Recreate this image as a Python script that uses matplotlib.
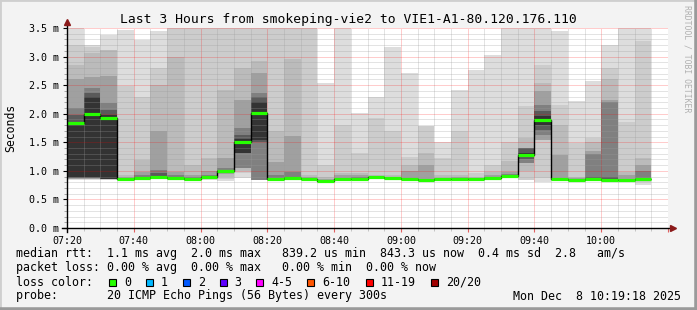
import matplotlib.pyplot as plt
import matplotlib.ticker as mticker
from matplotlib.lines import Line2D
from matplotlib.patches import Rectangle

MONO = "DejaVu Sans Mono"

# one smoke bar every 5 minutes, minutes after 07:20
step_start = list(range(0, 175, 5))
step_len = 5

major_ticks = [0, 20, 40, 60, 80, 100, 120, 140, 160, 180]
major_labels = ["07:20", "07:40", "08:00", "08:20", "08:40", "09:00", "09:20", "09:40", "10:00", ""]

# median rtt per step (ms)
median = [1.83, 1.99, 1.92, 0.86, 0.88, 0.90, 0.88, 0.86, 0.90, 1.00, 1.51, 2.01,
          0.86, 0.88, 0.86, 0.83, 0.85, 0.86, 0.89, 0.88, 0.86, 0.84, 0.85, 0.86,
          0.86, 0.88, 0.91, 1.28, 1.89, 0.85, 0.84, 0.86, 0.84, 0.84, 0.85]

# smoke levels, outer (light) to inner (dark): upper edges (ms)
top0 = [3.50, 3.20, 3.37, 3.46, 3.29, 3.44, 3.6, 3.6, 3.6, 3.6, 3.6, 3.6,
        3.6, 3.6, 3.6, 2.54, 3.6, 2.01, 2.30, 3.16, 2.71, 1.79, 1.51, 2.42,
        2.77, 3.02, 3.6, 3.6, 3.6, 3.44, 2.23, 2.58, 3.20, 3.6, 3.6]
top1 = [3.21, 3.16, 3.12, 2.49, 2.30, 2.80, 3.6, 3.6, 3.6, 3.6, 3.6, 3.6,
        3.6, 3.6, 3.6, 1.10, 1.80, 1.31, 1.92, 1.70, 1.25, 1.79, 1.22, 1.70,
        0.96, 1.10, 1.51, 2.13, 2.86, 2.16, 1.48, 1.57, 2.80, 1.86, 3.27]
top2 = [2.86, 3.07, 3.12, 0.93, 1.19, 2.50, 3.00, 1.10, 1.22, 2.42, 2.80, 2.92,
        1.70, 2.95, 0.92, 0.90, 0.96, 0.96, 0.93, 0.93, 1.10, 1.31, 0.92, 0.92,
        0.90, 0.98, 1.17, 1.57, 2.54, 1.81, 0.90, 1.50, 2.60, 0.98, 1.22]
top3 = [2.60, 2.65, 2.66, 0.90, 0.98, 1.69, 0.98, 0.93, 1.00, 1.22, 2.24, 2.72,
        1.16, 1.61, 0.89, 0.86, 0.93, 0.93, 0.91, 0.90, 1.00, 1.10, 0.88, 0.89,
        0.88, 0.93, 0.98, 1.40, 2.39, 1.28, 0.87, 1.34, 2.24, 0.92, 1.11]
top4 = [2.10, 2.45, 2.19, 0.88, 0.93, 1.02, 0.92, 0.89, 0.93, 1.05, 1.75, 2.37,
        0.92, 0.98, 0.87, 0.84, 0.87, 0.90, 0.90, 0.89, 0.88, 0.86, 0.86, 0.87,
        0.87, 0.90, 0.94, 1.40, 2.16, 0.87, 0.85, 1.30, 2.20, 0.86, 1.00]
top5 = [1.98, 2.37, 2.07, 0.87, 0.90, 0.96, 0.89, 0.87, 0.91, 1.02, 1.63, 2.30,
        0.87, 0.90, 0.865, 0.835, 0.86, 0.87, 0.90, 0.885, 0.865, 0.85, 0.855, 0.865,
        0.865, 0.89, 0.92, 1.40, 2.04, 0.86, 0.845, 0.90, 0.90, 0.85, 0.86]
top6 = [1.84, 2.30, 1.98, 0.86, 0.88, 0.90, 0.88, 0.86, 0.90, 1.00, 1.56, 2.21,
        0.86, 0.88, 0.86, 0.83, 0.85, 0.86, 0.89, 0.88, 0.86, 0.84, 0.85, 0.86,
        0.86, 0.88, 0.91, 1.32, 1.96, 0.85, 0.84, 0.86, 0.84, 0.84, 0.85]

# lower edges of the same levels
bot0 = [0.845, 0.845, 0.84, 0.84, 0.85, 0.86, 0.85, 0.83, 0.84, 0.82, 0.87, 0.84,
        0.84, 0.85, 0.84, 0.82, 0.84, 0.84, 0.86, 0.85, 0.84, 0.82, 0.83, 0.84,
        0.84, 0.86, 0.88, 0.84, 0.81, 0.83, 0.82, 0.84, 0.83, 0.83, 0.75]
bot1 = [0.85, 0.85, 0.845, 0.845, 0.86, 0.87, 0.86, 0.84, 0.85, 0.85, 0.96, 0.84,
        0.85, 0.86, 0.85, 0.82, 0.84, 0.85, 0.87, 0.86, 0.85, 0.83, 0.84, 0.85,
        0.85, 0.87, 0.89, 0.84, 0.87, 0.84, 0.83, 0.85, 0.83, 0.83, 0.80]
bot2 = [0.855, 0.855, 0.85, 0.85, 0.87, 0.88, 0.87, 0.85, 0.88, 0.90, 1.00, 0.84,
        0.85, 0.87, 0.85, 0.82, 0.84, 0.85, 0.88, 0.87, 0.85, 0.83, 0.84, 0.85,
        0.85, 0.87, 0.90, 1.00, 1.54, 0.84, 0.83, 0.85, 0.83, 0.83, 0.82]
bot3 = [0.86, 0.86, 0.85, 0.85, 0.87, 0.88, 0.87, 0.85, 0.89, 0.95, 1.05, 0.84,
        0.85, 0.87, 0.85, 0.82, 0.84, 0.85, 0.88, 0.87, 0.85, 0.83, 0.84, 0.85,
        0.85, 0.87, 0.90, 1.13, 1.54, 0.84, 0.83, 0.85, 0.83, 0.83, 0.83]
bot4 = [0.87, 0.87, 0.85, 0.85, 0.87, 0.89, 0.87, 0.85, 0.89, 0.98, 1.05, 0.84,
        0.85, 0.87, 0.85, 0.82, 0.84, 0.85, 0.88, 0.87, 0.85, 0.83, 0.84, 0.85,
        0.85, 0.87, 0.90, 1.13, 1.63, 0.84, 0.83, 0.85, 0.83, 0.83, 0.84]
bot5 = [0.88, 0.88, 0.85, 0.85, 0.87, 0.89, 0.87, 0.85, 0.89, 0.99, 1.31, 1.50,
        0.85, 0.87, 0.85, 0.82, 0.84, 0.85, 0.88, 0.87, 0.85, 0.83, 0.84, 0.85,
        0.85, 0.87, 0.90, 1.20, 1.71, 0.84, 0.83, 0.85, 0.83, 0.83, 0.84]
bot6 = [0.90, 0.90, 0.86, 0.855, 0.875, 0.89, 0.875, 0.855, 0.895, 0.99, 1.31, 1.54,
        0.855, 0.875, 0.855, 0.825, 0.845, 0.855, 0.885, 0.875, 0.855, 0.835, 0.845, 0.855,
        0.855, 0.875, 0.905, 1.24, 1.80, 0.845, 0.835, 0.855, 0.835, 0.835, 0.845]

smoke_colors = ["#dddddd", "#cccccc", "#bbbbbb", "#a0a0a0", "#808080", "#5a5a5a", "#333333"]

loss_labels = ["0", "1", "2", "3", "4-5", "6-10", "11-19", "20/20"]
loss_colors = ["#26ff00", "#00b8ff", "#0059ff", "#5e00ff", "#ff00ff", "#ff5500", "#ff0000", "#a10000"]

W, H = 697, 310
fig = plt.figure(figsize=(W / 100, H / 100), dpi=100, facecolor="#f3f3f3")
ax = fig.add_axes([67 / W, 82 / H, 601 / W, 200 / H])
ax.set_facecolor("white")

tops = [top0, top1, top2, top3, top4, top5, top6]
bots = [bot0, bot1, bot2, bot3, bot4, bot5, bot6]
for t, b, c in zip(tops, bots, smoke_colors):
    ax.bar(step_start, [hi - lo for hi, lo in zip(t, b)], bottom=b, width=step_len,
           align="edge", color=c, linewidth=0, zorder=1)

edges = step_start + [step_start[-1] + step_len]
ax.stairs(median, edges, baseline=None, color="black", lw=1.0, zorder=3)
ax.hlines(median, step_start, [s + step_len for s in step_start],
          color="#26ff00", lw=2.3, zorder=4)

ax.set_xlim(0, 180)
ax.set_ylim(0, 3.5)
ax.set_axisbelow(False)

ax.set_xticks(major_ticks)
ax.set_xticklabels(major_labels)
ax.set_xticks(list(range(0, 181, 5)), minor=True)
ax.set_yticks([0, 0.5, 1.0, 1.5, 2.0, 2.5, 3.0, 3.5])
ax.yaxis.set_minor_locator(mticker.MultipleLocator(0.1))
ax.yaxis.set_major_formatter(mticker.FuncFormatter(lambda v, p: f"{v:.1f} m"))

dots = (0, (1, 1))
ax.grid(True, which="minor", color="#9a9a9a", alpha=0.55, linestyle=dots, lw=0.72)
ax.grid(True, which="major", color="#ff0000", alpha=0.4, linestyle=dots, lw=0.72)

for s in ax.spines.values():
    s.set_visible(False)

ax.tick_params(axis="y", which="major", length=3, width=0.8, color="black", pad=3,
               labelsize=7.2, labelfontfamily=MONO)
ax.tick_params(axis="y", which="minor", length=2, width=0.6, color="#999999")
ax.tick_params(axis="x", which="major", length=3, width=0.8, color="#e06060", pad=3,
               labelsize=7.2, labelfontfamily=MONO)
ax.tick_params(axis="x", which="minor", length=2, width=0.6, color="#bbbbbb")

# axis lines with rrdtool style arrows
ax.plot([0, 0], [-0.02, 1.035], transform=ax.transAxes, color="black", lw=1, clip_on=False, zorder=5)
ax.plot([-0.008, 1.006], [0, 0], transform=ax.transAxes, color="black", lw=1, clip_on=False, zorder=5)
ax.plot([0], [1.03], marker="^", ms=5, color="#8b1a1a", transform=ax.transAxes, clip_on=False, zorder=6)
ax.plot([1.008], [0], marker=">", ms=5, color="#8b1a1a", transform=ax.transAxes, clip_on=False, zorder=6)

fig.text(348 / W, 1 - 19 / H, "Last 3 Hours from smokeping-vie2 to VIE1-A1-80.120.176.110",
         ha="center", va="center", family=MONO, fontsize=9.4)
fig.text(11 / W, 1 - 128 / H, "Seconds", rotation=90, ha="center", va="center",
         family=MONO, fontsize=8.3)
fig.text(687 / W, 1 - 59 / H, "RRDTOOL / TOBI OETIKER", rotation=270, ha="center",
         va="center", family=MONO, fontsize=5.9, color="#b0b0b0")

rows = [
    "median rtt:  1.1 ms avg  2.0 ms max   839.2 us min  843.3 us now  0.4 ms sd  2.8   am/s",
    "packet loss: 0.00 % avg  0.00 % max   0.00 % min  0.00 % now",
    "loss color:",
    "probe:       20 ICMP Echo Pings (56 Bytes) every 300s",
]
row_y = [254, 268, 282, 296]
for txt, y in zip(rows, row_y):
    fig.text(16 / W, 1 - y / H, txt, ha="left", va="center", family=MONO, fontsize=8.4)
fig.text(513 / W, 1 - 296 / H, "Mon Dec  8 10:19:18 2025", ha="left", va="center",
         family=MONO, fontsize=8.4)

box_x = [109, 146, 183, 219.5, 256, 307, 366, 431]
for bx, lab, col in zip(box_x, loss_labels, loss_colors):
    fig.add_artist(Rectangle((bx / W, 1 - 286 / H), 7 / W, 7 / H, transform=fig.transFigure,
                             facecolor=col, edgecolor="black", lw=0.8))
    fig.text((bx + 15) / W, 1 - 282 / H, lab, ha="left", va="center", family=MONO, fontsize=8.4)

# outer frame
fig.add_artist(Line2D([0, 1], [1, 1], transform=fig.transFigure, color="#cfcfcf", lw=2))
fig.add_artist(Line2D([0, 0], [0, 1], transform=fig.transFigure, color="#cfcfcf", lw=2))
fig.add_artist(Line2D([0, 1], [0, 0], transform=fig.transFigure, color="#9a9a9a", lw=4))
fig.add_artist(Line2D([1, 1], [0, 1], transform=fig.transFigure, color="#9a9a9a", lw=4))

fig.savefig("out.png", dpi=100, facecolor=fig.get_facecolor())
